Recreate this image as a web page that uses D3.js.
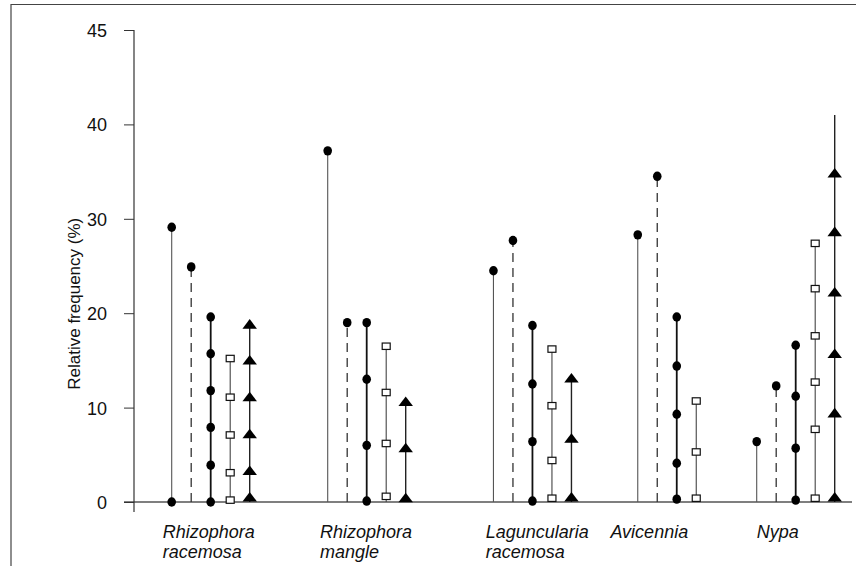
<!DOCTYPE html>
<html>
<head>
<meta charset="utf-8">
<script src="https://cdn.jsdelivr.net/npm/d3@7/dist/d3.min.js"></script>
<style>
  html, body { margin: 0; padding: 0; background: #fff; }
  svg { display: block; }
  text { font-family: "Liberation Sans", Arial, Helvetica, sans-serif; fill: #111; }
</style>
</head>
<body>
<svg id="chart" width="865" height="577"></svg>
<script>
// ---------------- DATA ----------------
const categories = ["Rhizophora racemosa", "Rhizophora mangle", "Laguncularia racemosa", "Avicennia", "Nypa"];

// thin solid stem, filled circle(s)
const solidCircle   = [[29.1, 0], [37.2], [24.5], [28.3], [6.4]];
// dashed stem, filled circle
const dashedCircle  = [[24.9], [19.0], [27.7], [34.5], [12.3]];
// bold stem, filled circles
const boldCircles   = [[19.6, 15.7, 11.8, 7.9, 3.9, 0], [19.0, 13.0, 6.0, 0.1], [18.7, 12.5, 6.4, 0.1], [19.6, 14.4, 9.3, 4.1, 0.3], [16.6, 11.2, 5.7, 0.2]];
// thin stem, open squares
const openSquares   = [[15.2, 11.1, 7.1, 3.1, 0.2], [16.5, 11.6, 6.2, 0.6], [16.2, 10.2, 4.4, 0.4], [10.7, 5.3, 0.4], [27.4, 22.6, 17.6, 12.7, 7.7, 0.4]];
// stem, filled triangles
const triangles     = [[18.7, 14.9, 11.0, 7.1, 3.2, 0.4], [10.5, 5.6, 0.3], [13.0, 6.6, 0.4], [], [34.7, 28.5, 22.1, 15.6, 9.3, 0.4]];
// stem continuing beyond the last triangle (off-scale)
const triangleStemTop = [null, null, null, null, 41];

const yTickValues = [0, 10, 20, 30, 40, 50];
const yTickLabels = ["0", "10", "20", "30", "40", "45"];
const yTitle = "Relative frequency (%)";

// ---------------- LAYOUT ----------------
const groupSlot = [0, 8, 16.5, 23.9, 30];     // slot where each group starts
const labelSlot = [-0.46, 7.6, 16.1, 22.5, 30.0];

const svg = d3.select("#chart");

// frame
svg.append("path")
  .attr("d", "M11,566 L11,4.5 L856,4.5")
  .attr("fill", "none").attr("stroke", "#444").attr("stroke-width", 1.2);

const y = d3.scaleLinear().domain([0, 50]).range([502, 30]);
const x = d3.scaleLinear().domain([0, 34]).range([171.7, 834.7]);

// baseline
svg.append("line")
  .attr("x1", 124).attr("x2", 852)
  .attr("y1", y(0)).attr("y2", y(0))
  .attr("stroke", "#555").attr("stroke-width", 1.5);

// y axis
const axisX = 134;
const yAxis = d3.axisLeft(y)
  .tickValues(yTickValues)
  .tickFormat((d, i) => yTickLabels[i])
  .tickSize(10)
  .tickPadding(17);
const gA = svg.append("g").attr("transform", `translate(${axisX},0)`).call(yAxis);
gA.select(".domain").remove();
gA.selectAll(".tick line").attr("stroke", "#333").attr("stroke-width", 1);
gA.selectAll(".tick text")
  .style("font-size", "18px")
  .style("font-family", '"Liberation Sans", Arial, sans-serif')
  .attr("fill", "#111")
  .attr("dy", "0.36em");
svg.append("line")
  .attr("x1", axisX).attr("x2", axisX)
  .attr("y1", y(50)).attr("y2", y(0) + 10)
  .attr("stroke", "#333").attr("stroke-width", 1.2);

// y title
svg.append("text")
  .attr("transform", `translate(74,${y(21)}) rotate(-90)`)
  .attr("text-anchor", "middle")
  .attr("dominant-baseline", "central")
  .style("font-size", "17px")
  .text(yTitle);

// category labels
categories.forEach((c, i) => {
  const words = c.split(" ");
  const t = svg.append("text")
    .attr("x", x(labelSlot[i]))
    .attr("y", 538)
    .style("font-size", "18px")
    .style("font-style", "italic");
  words.forEach((w, j) => {
    t.append("tspan").attr("x", x(labelSlot[i])).attr("dy", j === 0 ? 0 : 19.5).text(w);
  });
});

const stems = svg.append("g");
const marks = svg.append("g");

function stem(cx, top, style) {
  const l = stems.append("line")
    .attr("x1", cx).attr("x2", cx)
    .attr("y1", y(0)).attr("y2", y(top))
    .attr("stroke", style.color || "#222")
    .attr("stroke-width", style.width || 1);
  if (style.dash) l.attr("stroke-dasharray", style.dash);
}

const seriesDefs = [
  { data: solidCircle,  type: "circle", stem: { color: "#555", width: 1.1 } },
  { data: dashedCircle, type: "circle", stem: { color: "#333", width: 1.3, dash: "9,6" } },
  { data: boldCircles,  type: "circle", stem: { color: "#111", width: 1.8 } },
  { data: openSquares,  type: "square", stem: { color: "#444", width: 1.1 } },
  { data: triangles,    type: "triangle", stem: { color: "#222", width: 1.4 }, extra: triangleStemTop }
];

const triPath = d3.symbol().type(d3.symbolTriangle).size(58);

categories.forEach((c, gi) => {
  seriesDefs.forEach((s, si) => {
    const vals = s.data[gi];
    if (!vals || vals.length === 0) return;
    const cx = x(groupSlot[gi] + si);
    let top = d3.max(vals);
    if (s.extra && s.extra[gi] != null) top = Math.max(top, s.extra[gi]);
    stem(cx, top, s.stem);
    vals.forEach(v => {
      if (s.type === "circle") {
        marks.append("ellipse")
          .attr("cx", cx).attr("cy", y(v))
          .attr("rx", 4.3).attr("ry", 4.7)
          .attr("fill", "#000");
      } else if (s.type === "square") {
        marks.append("rect")
          .attr("x", cx - 4).attr("y", y(v) - 3.2)
          .attr("width", 8).attr("height", 6.4)
          .attr("fill", "#fff").attr("stroke", "#111").attr("stroke-width", 1.2);
      } else {
        marks.append("path")
          .attr("d", triPath())
          .attr("transform", `translate(${cx},${y(v)}) scale(1.25,0.95)`)
          .attr("fill", "#000");
      }
    });
  });
});
</script>
</body>
</html>
